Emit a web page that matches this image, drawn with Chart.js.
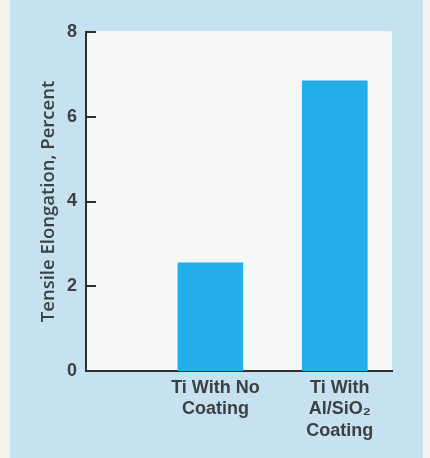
<!DOCTYPE html>
<html>
<head>
<meta charset="utf-8">
<script src="https://cdn.jsdelivr.net/npm/chart.js@4"></script>
<style>
  html, body { margin: 0; padding: 0; background: #f3f3ee; }
  #wrap { width: 430px; height: 458px; position: relative; }
</style>
</head>
<body>
<div id="wrap"><canvas id="chart"></canvas></div>
<script>
// Specimen groups (multi-line axis labels)
const categories = [
  ['Ti With No', 'Coating'],
  ['Ti With', 'Al/SiO\u2082', 'Coating']
];
// Tensile elongation, percent
const elongation = [2.55, 6.85];
// Value-axis ticks
const yTicks = [0, 2, 4, 6, 8];

const ink = '#3d4043';
const axisInk = '#2e3032';
const barBlue = '#22aee8';

// Light-blue page panel with a white plotting field
const panelPlugin = {
  id: 'panel',
  beforeDraw(chart) {
    const { ctx, chartArea: a, width, height } = chart;
    ctx.save();
    ctx.fillStyle = '#f3f3ee';
    ctx.fillRect(0, 0, width, height);
    ctx.fillStyle = '#c6e1ef';
    ctx.fillRect(10, 0, 413, height);
    ctx.fillStyle = '#f6f8f5';
    ctx.fillRect(a.left, a.top - 1, a.right - a.left, a.bottom - a.top + 1);
    ctx.restore();
  }
};

// Short tick marks pointing into the plot from the value axis
const innerTicks = {
  id: 'innerTicks',
  afterDraw(chart) {
    const { ctx, chartArea: a } = chart;
    const y = chart.scales.y;
    ctx.save();
    ctx.strokeStyle = axisInk;
    ctx.lineWidth = 2;
    yTicks.filter(v => v > 0).forEach(v => {
      const py = Math.round(y.getPixelForValue(v));
      ctx.beginPath();
      ctx.moveTo(a.left, py);
      ctx.lineTo(a.left + 10, py);
      ctx.stroke();
    });
    ctx.restore();
  }
};

new Chart(document.getElementById('chart'), {
  type: 'bar',
  data: {
    datasets: [{
      data: elongation.map((v, i) => ({ x: i + 1, y: v })),
      backgroundColor: barBlue,
      borderWidth: 0,
      barThickness: 65
    }]
  },
  options: {
    responsive: true,
    maintainAspectRatio: false,
    animation: false,
    devicePixelRatio: 1,
    layout: { padding: { top: 32, right: 38, bottom: 0, left: 0 } },
    plugins: { legend: { display: false }, tooltip: { enabled: false } },
    scales: {
      x: {
        type: 'linear',
        min: 0,
        max: 2.46,
        offset: false,
        grid: { display: false, offset: false, drawTicks: false },
        border: { display: true, color: axisInk, width: 2 },
        afterBuildTicks(scale) {
          scale.ticks = categories.map((_, i) => ({ value: i + 1 }));
        },
        afterFit(scale) { scale.height = 87; },
        ticks: {
          autoSkip: false,
          maxRotation: 0,
          padding: 6,
          labelOffset: 5,
          color: ink,
          font: { family: 'Liberation Sans', size: 18, weight: 'bold', lineHeight: 1.2 },
          callback: v => categories[v - 1]
        }
      },
      y: {
        min: 0,
        max: 8,
        grid: { display: false, drawTicks: false },
        border: { display: true, color: axisInk, width: 2 },
        afterBuildTicks(scale) {
          scale.ticks = yTicks.map(v => ({ value: v }));
        },
        afterFit(scale) { scale.width = 86; },
        ticks: {
          padding: 9,
          color: ink,
          font: { family: 'Liberation Sans', size: 18, weight: 'bold' }
        },
        title: {
          display: true,
          text: 'Tensile Elongation, Percent',
          color: ink,
          padding: { top: 38, bottom: 0 },
          font: { family: 'Open Sans', size: 18.5, weight: '600', lineHeight: 1.2 }
        }
      }
    }
  },
  plugins: [panelPlugin, innerTicks]
});
</script>
</body>
</html>
